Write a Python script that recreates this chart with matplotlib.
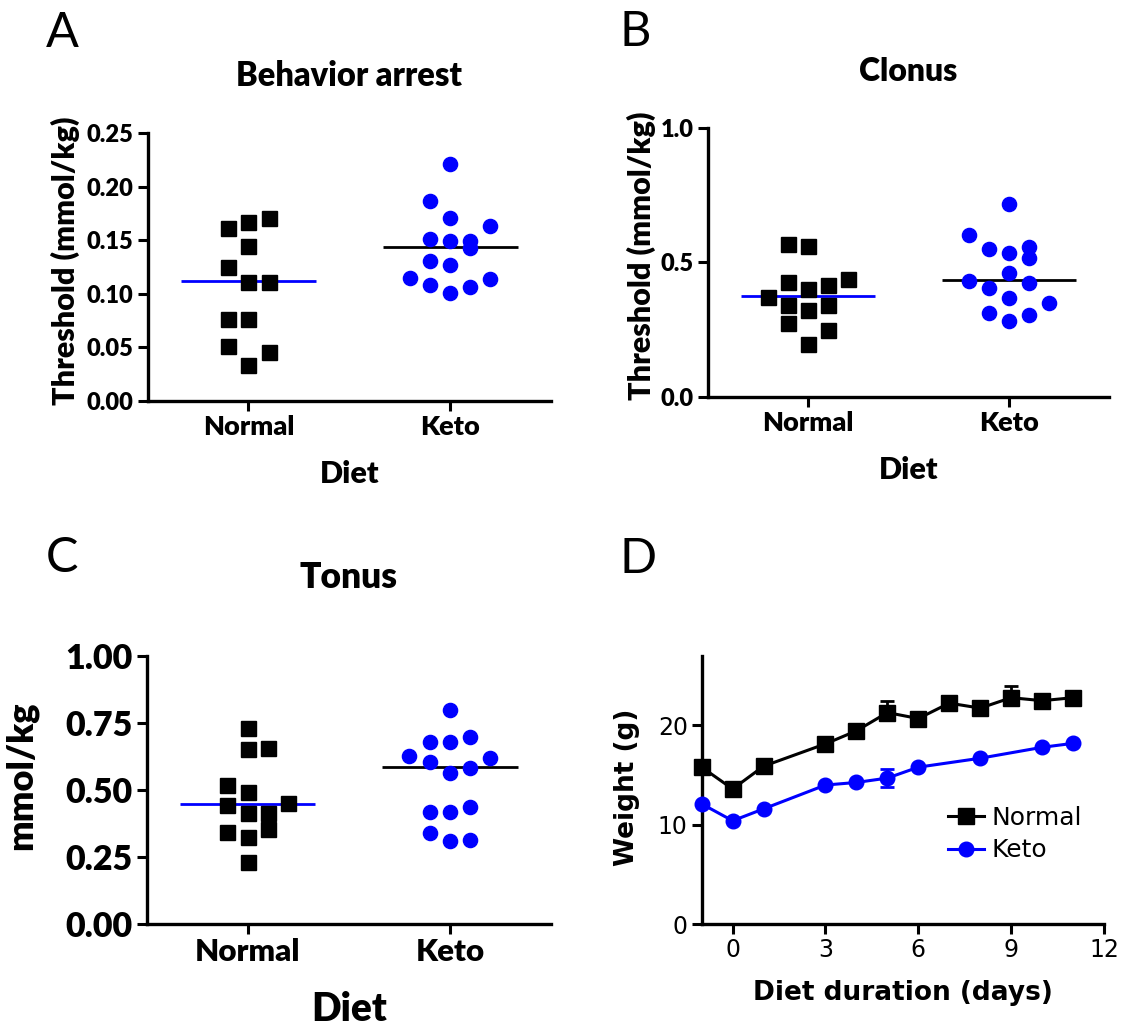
import matplotlib
matplotlib.use("Agg")

import matplotlib.pyplot as plt
from matplotlib.lines import Line2D

# SETTINGS
W_PX, H_PX = 1127, 1027
DPI = 100
GILL = "Lato"          # stands in for the Gill Sans look of panels A-C
VERD = "DejaVu Sans"   # stands in for the Verdana look of panel D
HEAVY = "heavy"

CATEGORIES = ["Normal", "Keto"]
COL_STEP = 0.1          # horizontal spacing of one scatter column
LINE_HALF = 0.335       # half width of the central line

# Panel A: Behavior arrest
A_NORMAL = [0.161, 0.167, 0.171, 0.145, 0.125, 0.111, 0.111, 0.0765, 0.0765, 0.051, 0.0455, 0.0335]
A_NORMAL_COL = [-1, 0, 1, 0, -1, 0, 1, -1, 0, -1, 1, 0]
A_KETO = [0.2215, 0.1865, 0.171, 0.1636, 0.151, 0.1496, 0.149, 0.1425, 0.131, 0.1264,
          0.1146, 0.1137, 0.1078, 0.1063, 0.1007]
A_KETO_COL = [0, -1, 0, 2, -1, 0, 1, 1, -1, 0, -2, 2, -1, 1, 0]
A_LINES = [0.1115, 0.1434]
A_YTICKS = [0.00, 0.05, 0.10, 0.15, 0.20, 0.25]

# Panel B: Clonus
B_NORMAL = [0.570, 0.560, 0.4275, 0.440, 0.403, 0.415, 0.372, 0.341, 0.341, 0.325, 0.275, 0.248, 0.198]
B_NORMAL_COL = [-1, 0, -1, 2, 0, 1, -2, -1, 1, 0, -1, 1, 0]
B_KETO = [0.719, 0.601, 0.551, 0.535, 0.558, 0.518, 0.461, 0.431, 0.424, 0.406, 0.369,
          0.349, 0.3135, 0.306, 0.2825]
B_KETO_COL = [0, -2, -1, 0, 1, 1, 0, -2, 1, -1, 0, 2, -1, 1, 0]
B_LINES = [0.374, 0.434]
B_YTICKS = [0.0, 0.5, 1.0]

# Panel C: Tonus
C_NORMAL = [0.730, 0.652, 0.655, 0.519, 0.494, 0.445, 0.453, 0.414, 0.416, 0.345, 0.354, 0.324, 0.230]
C_NORMAL_COL = [0, 0, 1, -1, 0, -1, 2, 0, 1, -1, 1, 0, 0]
C_KETO = [0.799, 0.699, 0.678, 0.678, 0.627, 0.621, 0.604, 0.581, 0.563, 0.436, 0.417,
          0.417, 0.339, 0.314, 0.308]
C_KETO_COL = [0, 1, -1, 0, -2, 2, -1, 1, 0, 1, -1, 0, -1, 1, 0]
C_LINES = [0.447, 0.5876]
C_YTICKS = [0.00, 0.25, 0.50, 0.75, 1.00]

# Panel D: body weight over diet duration
D_DAYS_NORMAL = [-1, 0, 1, 3, 4, 5, 6, 7, 8, 9, 10, 11]
D_WEIGHT_NORMAL = [15.8, 13.6, 15.9, 18.15, 19.46, 21.3, 20.7, 22.25, 21.75, 22.8, 22.5, 22.8]
D_ERR_NORMAL = [0, 0, 0, 0, 0, 1.2, 0, 0, 0, 1.2, 0, 0]
D_DAYS_KETO = [-1, 0, 1, 3, 4, 5, 6, 8, 10, 11]
D_WEIGHT_KETO = [12.1, 10.4, 11.6, 14.0, 14.26, 14.7, 15.8, 16.7, 17.8, 18.2]
D_ERR_KETO = [0, 0, 0, 0, 0, 0.87, 0, 0, 0, 0]
D_XTICKS = [0, 3, 6, 9, 12]
D_YTICKS = [0, 10, 20]


def px_axes(fig, left, top, right, bottom):
    return fig.add_axes([left / W_PX, 1 - bottom / H_PX,
                         (right - left) / W_PX, (bottom - top) / H_PX])


def style_axes(ax):
    for side in ("top", "right"):
        ax.spines[side].set_visible(False)
    for side in ("left", "bottom"):
        ax.spines[side].set_linewidth(2.4)
    ax.tick_params(direction="out", length=7, width=2.2)


def dot_panel(ax, normal, normal_col, keto, keto_col, lines, yticks, fmt,
              title, title_pad, ylabel, ylabel_xy, xlabel_y,
              tick_fs, xtick_fs, label_fs, title_fs, xlabel_fs):
    style_axes(ax)
    ax.set_xlim(-0.5, 1.5)
    ax.set_ylim(yticks[0], yticks[-1])

    ax.hlines(lines[0], -LINE_HALF, LINE_HALF, color="blue", lw=2, zorder=2)
    ax.hlines(lines[1], 1 - LINE_HALF, 1 + LINE_HALF, color="black", lw=2, zorder=2)

    ax.plot([c * COL_STEP for c in normal_col], normal, "s", ms=10.8,
            color="black", zorder=3, clip_on=False)
    ax.plot([1 + c * COL_STEP for c in keto_col], keto, "o", ms=10.2,
            color="blue", zorder=3, clip_on=False)

    ax.set_xticks([0, 1], labels=CATEGORIES, fontsize=xtick_fs,
                  fontweight=HEAVY, fontfamily=GILL)
    ax.set_yticks(yticks, labels=[fmt.format(v) for v in yticks], fontsize=tick_fs,
                  fontweight=HEAVY, fontfamily=GILL)
    ax.tick_params(axis="x", pad=3)
    ax.tick_params(axis="y", pad=3)

    ax.set_title(title, fontsize=title_fs, fontweight=HEAVY, fontfamily=GILL, pad=title_pad)
    ax.set_ylabel(ylabel, fontsize=label_fs, fontweight=HEAVY, fontfamily=GILL,
                  va="baseline")
    ax.yaxis.set_label_coords(*ylabel_xy)
    ax.set_xlabel("Diet", fontsize=xlabel_fs, fontweight=HEAVY, fontfamily=GILL,
                  va="baseline")
    ax.xaxis.set_label_coords(0.5, xlabel_y)


def main():
    fig = plt.figure(figsize=(W_PX / DPI, H_PX / DPI), dpi=DPI)

    ax_a = px_axes(fig, 147.5, 133, 551, 401)
    dot_panel(ax_a, A_NORMAL, A_NORMAL_COL, A_KETO, A_KETO_COL, A_LINES, A_YTICKS, "{:.2f}",
              "Behavior arrest", 34, "Threshold (mmol/kg)", (-0.18, 0.522), -0.306,
              17, 19.5, 22, 23.5, 22)

    ax_b = px_axes(fig, 708, 128, 1109, 397)
    dot_panel(ax_b, B_NORMAL, B_NORMAL_COL, B_KETO, B_KETO_COL, B_LINES, B_YTICKS, "{:.1f}",
              "Clonus", 34, "Threshold (mmol/kg)", (-0.142, 0.524), -0.305,
              17, 19.5, 22, 23, 22)

    ax_c = px_axes(fig, 146.5, 656, 551, 924)
    dot_panel(ax_c, C_NORMAL, C_NORMAL_COL, C_KETO, C_KETO_COL, C_LINES, C_YTICKS, "{:.2f}",
              "Tonus", 49, "mmol/kg", (-0.285, 0.552), -0.362,
              24.5, 22.5, 26, 25.5, 28)

    # Panel D
    ax_d = px_axes(fig, 701.7, 656, 1104, 924)
    style_axes(ax_d)
    ax_d.set_xlim(-1, 12)
    ax_d.set_ylim(0, 27)
    ax_d.errorbar(D_DAYS_NORMAL, D_WEIGHT_NORMAL, yerr=[[0] * len(D_ERR_NORMAL), D_ERR_NORMAL],
                  color="black", marker="s", ms=11, lw=2.2, elinewidth=2, capsize=5,
                  capthick=2, clip_on=False, zorder=3)
    ax_d.errorbar(D_DAYS_KETO, D_WEIGHT_KETO, yerr=D_ERR_KETO,
                  color="blue", marker="o", ms=10.5, lw=2.2, elinewidth=2, capsize=5,
                  capthick=2, clip_on=False, zorder=3)
    ax_d.set_xticks(D_XTICKS, labels=[str(v) for v in D_XTICKS], fontsize=17, fontfamily=VERD)
    ax_d.set_yticks(D_YTICKS, labels=[str(v) for v in D_YTICKS], fontsize=17, fontfamily=VERD)
    ax_d.tick_params(pad=3)
    ax_d.set_ylabel("Weight (g)", fontsize=19, fontweight="bold", fontfamily=VERD, va="baseline")
    ax_d.yaxis.set_label_coords(-0.168, 0.509)
    ax_d.set_xlabel("Diet duration (days)", fontsize=19, fontweight="bold", fontfamily=VERD,
                    va="baseline")
    ax_d.xaxis.set_label_coords(0.5, -0.284)

    handles = [
        Line2D([], [], color="black", marker="s", ms=11, lw=2.2),
        Line2D([], [], color="blue", marker="o", ms=10.5, lw=2.2),
    ]
    ax_d.legend(handles, CATEGORIES, loc="upper left", bbox_to_anchor=(0.612, 0.44),
                frameon=False, prop={"family": VERD, "size": 18}, handlelength=1.45,
                handletextpad=0.3, labelspacing=0.33, borderpad=0, borderaxespad=0)

    # Panel letters
    for letter, x, y in (("A", 46, 47), ("B", 619, 46), ("C", 46, 572), ("D", 619, 573)):
        fig.text(x / W_PX, 1 - y / H_PX, letter, fontsize=35, fontfamily=GILL,
                 ha="left", va="baseline")

    fig.savefig("out.png", dpi=DPI)
    plt.close(fig)


if __name__ == "__main__":
    main()
